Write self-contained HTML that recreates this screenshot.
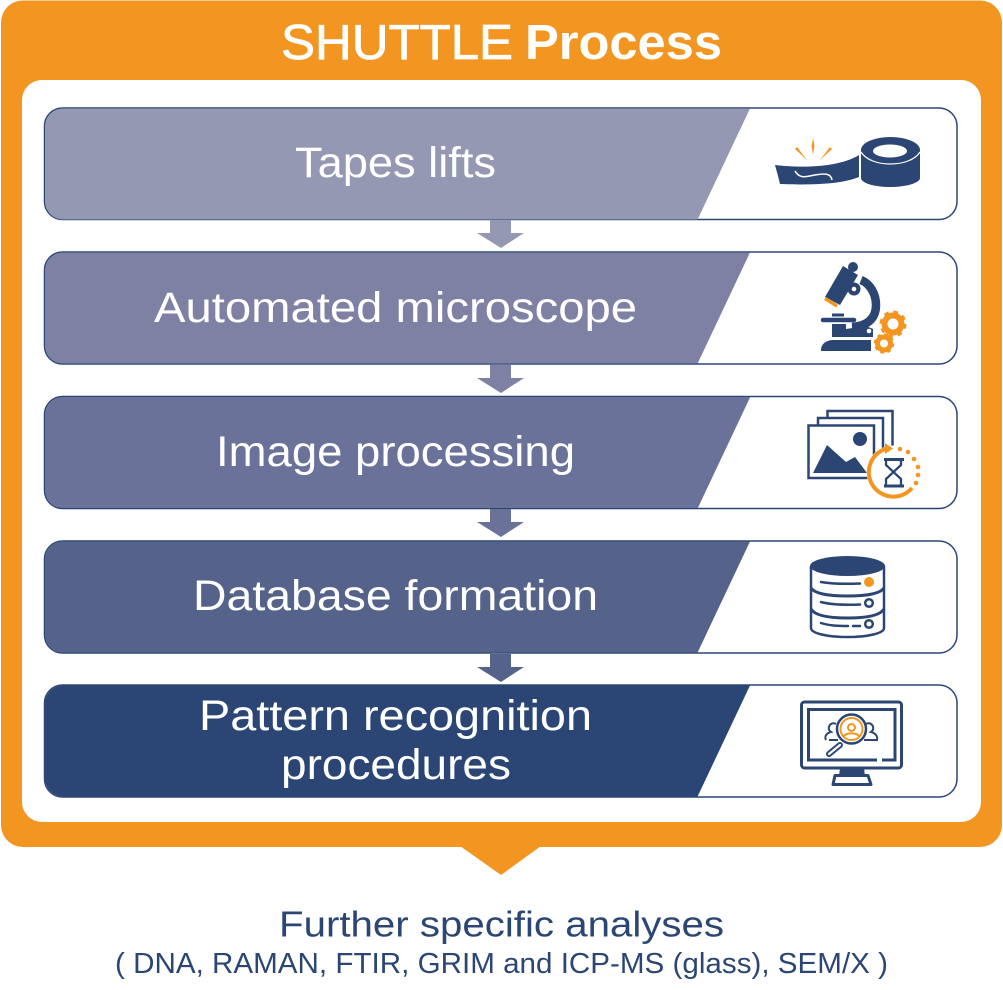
<!DOCTYPE html>
<html><head><meta charset="utf-8"><style>
html,body{margin:0;padding:0;background:#fff}
svg{display:block}
text{font-family:"Liberation Sans",sans-serif}
.l{fill:#fff;font-size:43px}
</style></head><body>
<svg width="1003" height="990" viewBox="0 0 1003 990" xmlns="http://www.w3.org/2000/svg">
<defs>
<clipPath id="c1"><rect x="45" y="108.500" width="912" height="111" rx="18"/></clipPath>
<clipPath id="c2"><rect x="45" y="252.500" width="912" height="111" rx="18"/></clipPath>
<clipPath id="c3"><rect x="45" y="397" width="912" height="111" rx="18"/></clipPath>
<clipPath id="c4"><rect x="45" y="541.500" width="912" height="111" rx="18"/></clipPath>
<clipPath id="c5"><rect x="45" y="685.500" width="912" height="111" rx="18"/></clipPath>
</defs>
<rect x="1" y="0.500" width="1001" height="846.500" rx="22" fill="#f39521"/>
<polygon points="460,846 501,875 541,846" fill="#f39521"/>
<rect x="22" y="80" width="959" height="742" rx="20" fill="#fff"/>

<!-- rows -->
<g stroke="#2c4674" stroke-width="1.500" fill="#fff">
<rect x="44.500" y="108" width="912.500" height="111.500" rx="18"/>
<rect x="44.500" y="252" width="912.500" height="112" rx="18"/>
<rect x="44.500" y="396.500" width="912.500" height="112" rx="18"/>
<rect x="44.500" y="541" width="912.500" height="112" rx="18"/>
<rect x="44.500" y="685" width="912.500" height="112" rx="18"/>
</g>
<polygon clip-path="url(#c1)" points="40,100 754,100 695,225 40,225" fill="#9498b3"/>
<polygon clip-path="url(#c2)" points="40,244 754,244 695,369 40,369" fill="#7e81a3"/>
<polygon clip-path="url(#c3)" points="40,389 754,389 695,514 40,514" fill="#6a7299"/>
<polygon clip-path="url(#c4)" points="40,533 754,533 695,658 40,658" fill="#55628a"/>
<polygon clip-path="url(#c5)" points="40,677 754,677 695,802 40,802" fill="#2b4675"/>

<!-- arrows -->
<polygon points="490,220 511,220 511,233 524,233 501,248 477,233 490,233" fill="#9498b3"/>
<polygon points="490,365 511,365 511,378 524,378 501,393 477,378 490,378" fill="#7e81a3"/>
<polygon points="490,509 511,509 511,522 524,522 501,537 477,522 490,522" fill="#6a7299"/>
<polygon points="490,654 511,654 511,667 524,667 501,682 477,667 490,667" fill="#55628a"/>

<!-- text -->
<text x="281" y="59" font-size="49" fill="#fff" stroke="#fff" stroke-width="0.800" textLength="232" lengthAdjust="spacingAndGlyphs">SHUTTLE</text>
<text x="525" y="59" font-size="49" font-weight="bold" fill="#fff" textLength="197" lengthAdjust="spacingAndGlyphs">Process</text>
<text class="l" x="295" y="177" textLength="201" lengthAdjust="spacingAndGlyphs">Tapes lifts</text>
<text class="l" x="154" y="322" textLength="483" lengthAdjust="spacingAndGlyphs">Automated microscope</text>
<text class="l" x="216" y="466" textLength="359" lengthAdjust="spacingAndGlyphs">Image processing</text>
<text class="l" x="193" y="610" textLength="405" lengthAdjust="spacingAndGlyphs">Database formation</text>
<text class="l" x="199" y="730" textLength="393" lengthAdjust="spacingAndGlyphs">Pattern recognition</text>
<text class="l" x="281" y="779" textLength="230" lengthAdjust="spacingAndGlyphs">procedures</text>
<text x="279" y="936.500" font-size="36" fill="#2c4674" textLength="445" lengthAdjust="spacingAndGlyphs">Further specific analyses</text>
<text x="115" y="973" font-size="29" fill="#2c4674" textLength="773" lengthAdjust="spacingAndGlyphs">( DNA, RAMAN, FTIR, GRIM and ICP-MS (glass), SEM/X )</text>

<!-- tape icon -->
<g>
<path d="M775 165 C800 168 838 168 859 155 L859 177 C840 185 805 185 780 184 L778 176 Z" fill="#2c4674"/>
<path d="M795 171 C800 180 808 176 815 175 C822 174 831 172 832 180" fill="none" stroke="#fff" stroke-width="1.500"/>
<path d="M861 150 A29.500 13 0 0 1 920 150 L920 178 C920 183 906 187 890 187 C874 187 861 183 861 178 Z" fill="#2c4674"/>
<path d="M861 152 C866 160 878 164 890 164 C903 164 915 160 920 152" fill="none" stroke="#fff" stroke-width="1.200"/>
<ellipse cx="890" cy="151" rx="17" ry="6.500" fill="#fff"/>
<g fill="#f39521">
<polygon points="795,149 797,147 807,160"/>
<polygon points="811.500,146 813,138 814.500,146 813,155"/>
<polygon points="832,149 830,147 820,160"/>
</g>
</g>

<!-- microscope -->
<g>
<polygon points="825,297 843,266 858,275 840,305" fill="#2c4674"/>
<circle cx="853" cy="267" r="5" fill="#2c4674"/>
<line x1="825" y1="298.500" x2="837" y2="306" stroke="#f39521" stroke-width="3.500"/>
<path d="M861 280 C871 284 876 295 876 305 C876 318 868 326 852 327" fill="none" stroke="#2c4674" stroke-width="8.500"/>
<circle cx="854" cy="289" r="6.500" fill="#2c4674"/><circle cx="854" cy="289" r="2.300" fill="#fff"/>
<line x1="823" y1="320" x2="854" y2="320" stroke="#2c4674" stroke-width="4.500" stroke-linecap="round"/>
<rect x="832" y="313.500" width="12" height="3" fill="#2c4674"/>
<path d="M832 324 L846 324 L846 329 L866 326 L873 329 L873 337 L832 337 Z" fill="#2c4674"/>
<circle cx="869" cy="331" r="2.300" fill="#fff"/>
<path d="M821 350 C821 344 826 340 834 340 L871 340 L871 351 L821 351 Z" fill="#2c4674"/>
<circle cx="893" cy="324" r="8.500" fill="none" stroke="#f39521" stroke-width="6"/>
<circle cx="893" cy="324" r="12" fill="none" stroke="#f39521" stroke-width="3" stroke-dasharray="4.700 4.725"/>
<circle cx="884" cy="343.500" r="6.500" fill="none" stroke="#f39521" stroke-width="5"/>
<circle cx="884" cy="343.500" r="9" fill="none" stroke="#f39521" stroke-width="2.500" stroke-dasharray="3.500 3.570"/>
</g>

<!-- images icon -->
<g fill="#fff" stroke="#2c4674" stroke-width="2.500">
<rect x="827.500" y="411" width="65" height="54"/>
<rect x="818" y="418" width="65" height="54"/>
<rect x="808.500" y="425.500" width="65.500" height="52.500"/>
</g>
<circle cx="860" cy="439" r="7" fill="#2c4674"/>
<polygon points="813,473 827,445 846,462 855,457 867,473" fill="#2c4674"/>
<circle cx="893" cy="472" r="26.500" fill="#fff"/>
<path d="M889 448 A24.500 24.500 0 1 0 912 488" fill="none" stroke="#f39521" stroke-width="4"/>
<polygon points="885,443 893,448.500 885,454" fill="#f39521"/>
<g fill="#f39521">
<circle cx="900" cy="449" r="2.300"/><circle cx="908" cy="452" r="2.300"/><circle cx="914" cy="459" r="2.300"/>
<circle cx="918" cy="467" r="2.300"/><circle cx="918" cy="475" r="2.300"/><circle cx="916" cy="483" r="2.300"/>
</g>
<g stroke="#2c4674" fill="none">
<line x1="884" y1="459.500" x2="904" y2="459.500" stroke-width="3"/>
<line x1="884" y1="486" x2="904" y2="486" stroke-width="3"/>
<path d="M886 460 L886 465 L901 479 L901 486 M901 460 L901 465 L886 479 L886 486" stroke-width="2.300"/>
</g>

<!-- database -->
<g fill="none" stroke="#2c4674" stroke-width="2.500">
<path d="M811 566 L811 628 C811 633 826 637 847.500 637 C869 637 884 633 884 628 L884 566"/>
<path d="M811 588 C815 594 830 596 847.500 596 C865 596 880 594 884 588" stroke-width="3"/>
<path d="M811 609 C815 616 830 618 847.500 618 C865 618 880 616 884 609" stroke-width="3"/>
<path d="M821 582 C832 584 848 584 860 583.500" stroke-linecap="round"/>
<path d="M821 602 C832 605 848 605 860 604.500" stroke-linecap="round"/>
<path d="M821 623 C830 626 840 626 848 626" stroke-linecap="round"/>
<line x1="853" y1="626" x2="860" y2="626" stroke-linecap="round"/>
<circle cx="869" cy="603" r="3.800"/>
<circle cx="869" cy="624" r="3.800"/>
</g>
<ellipse cx="847.500" cy="566" rx="37.500" ry="10" fill="#2c4674"/>
<circle cx="869" cy="582" r="5" fill="#f39521"/>

<!-- monitor -->
<g fill="none" stroke="#2c4674">
<rect x="801.500" y="702" width="100" height="66" rx="3" stroke-width="3"/>
<path d="M877 760 L808.500 760 L808.500 709.500 L895 709.500 L895 760 L882 760" stroke-width="3"/>
<path d="M835 775.500 L868 775.500 L871 784.500 L833 784.500 Z" stroke-width="3" stroke-linejoin="round"/>
<path d="M829 740 L838 740 M826 740 C824 736 827 733 831 732 A4.500 4.500 0 0 1 836 724" stroke-width="2"/>
<path d="M864 740 L877 740 C878 736 875 733 871 732 A4.500 4.500 0 0 0 866 724" stroke-width="2"/>
<circle cx="851.500" cy="729" r="14.500" stroke-width="2.500" fill="#fff"/>
<line x1="840" y1="745" x2="829" y2="754" stroke-width="6" stroke-linecap="round"/>
</g>
<line x1="840" y1="745" x2="829" y2="754" stroke="#fff" stroke-width="2.200" stroke-linecap="round"/>
<polygon points="840,768 864,768 865,776 839,776" fill="#2c4674"/>
<g fill="none" stroke="#f39521" stroke-width="2">
<circle cx="851.500" cy="729" r="11"/>
<circle cx="851.500" cy="727.500" r="3.500"/>
<path d="M843.500 737 C845 732 858 732 859.500 737"/>
</g>
</svg>
</body></html>
